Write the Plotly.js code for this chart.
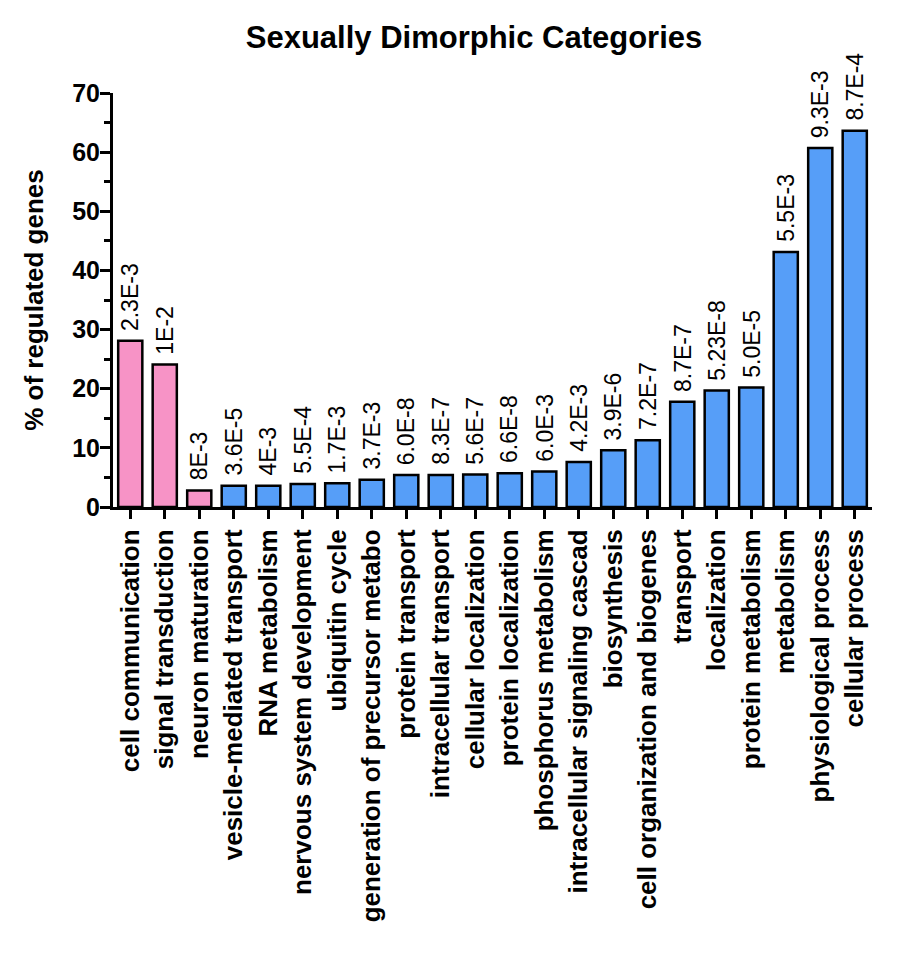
<!DOCTYPE html>
<html>
<head>
<meta charset="utf-8">
<script src="https://cdn.plot.ly/plotly-3.0.1.min.js"></script>
<style>
  html, body { margin: 0; padding: 0; background: #ffffff; }
  #chart { width: 900px; height: 956px; }
</style>
</head>
<body>
<div id="chart"></div>
<script>
const categories = [
  "cell communication",
  "signal transduction",
  "neuron maturation",
  "vesicle-mediated transport",
  "RNA metabolism",
  "nervous system development",
  "ubiquitin cycle",
  "generation of precursor metabo",
  "protein transport",
  "intracellular transport",
  "cellular localization",
  "protein localization",
  "phosphorus metabolism",
  "intracellular signaling cascad",
  "biosynthesis",
  "cell organization and biogenes",
  "transport",
  "localization",
  "protein metabolism",
  "metabolism",
  "physiological process",
  "cellular process"
];
const percentRegulated = [
  28.1, 24.1, 2.8, 3.6, 3.6, 3.9, 4.0, 4.6, 5.4, 5.4, 5.5,
  5.7, 6.0, 7.6, 9.6, 11.3, 17.8, 19.7, 20.2, 43.1, 60.7, 63.6
];
const pValues = [
  "2.3E-3", "1E-2", "8E-3", "3.6E-5", "4E-3", "5.5E-4", "1.7E-3", "3.7E-3",
  "6.0E-8", "8.3E-7", "5.6E-7", "6.6E-8", "6.0E-3", "4.2E-3", "3.9E-6",
  "7.2E-7", "8.7E-7", "5.23E-8", "5.0E-5", "5.5E-3", "9.3E-3", "8.7E-4"
];
const groups = [
  "pink", "pink", "pink", "blue", "blue", "blue", "blue", "blue", "blue", "blue", "blue",
  "blue", "blue", "blue", "blue", "blue", "blue", "blue", "blue", "blue", "blue", "blue"
];
const groupColors = { pink: "#F793C6", blue: "#569EF8" };

const boldFont = "Liberation Sans, Arial, Helvetica, sans-serif";
const labelFont = "Liberation Sans Narrow, Arial Narrow, Liberation Sans, Arial, sans-serif";

const trace = {
  type: "bar",
  x: categories,
  y: percentRegulated,
  marker: {
    color: groups.map(g => groupColors[g]),
    line: { color: "#000000", width: 2.5 }
  },
  hoverinfo: "x+y"
};

const annotations = categories.map((c, i) => ({
  x: c,
  y: percentRegulated[i],
  xref: "x",
  yref: "y",
  text: pValues[i],
  showarrow: false,
  textangle: -90,
  xanchor: "center",
  yanchor: "bottom",
  yshift: 8,
  font: { family: labelFont, size: 23, color: "#000000" }
}));

const layout = {
  width: 900,
  height: 956,
  margin: { l: 113, r: 28, t: 93, b: 449 },
  paper_bgcolor: "#ffffff",
  plot_bgcolor: "#ffffff",
  showlegend: false,
  bargap: 0.3,
  title: {
    text: "<b>Sexually Dimorphic Categories</b>",
    font: { family: boldFont, size: 31, color: "#000000" },
    x: 474 / 900,
    xref: "container",
    xanchor: "center",
    y: 1 - 37 / 956,
    yref: "container",
    yanchor: "middle"
  },
  xaxis: {
    type: "category",
    range: [-0.5, categories.length - 0.5],
    showline: true,
    linecolor: "#000000",
    linewidth: 3,
    ticks: "outside",
    ticklen: 9,
    tickwidth: 3,
    tickcolor: "#000000",
    tickangle: -90,
    tickfont: { family: boldFont, size: 26, color: "#000000", weight: "bold" },
    showgrid: false,
    zeroline: false,
    automargin: false,
    fixedrange: true
  },
  yaxis: {
    range: [0, 70],
    tickvals: [0, 10, 20, 30, 40, 50, 60, 70],
    ticktext: ["0", "10", "20", "30", "40", "50", "60", "70"],
    showline: true,
    linecolor: "#000000",
    linewidth: 3,
    ticks: "outside",
    ticklen: 10,
    tickwidth: 3,
    tickcolor: "#000000",
    ticklabelstandoff: -5,
    tickfont: { family: boldFont, size: 25, color: "#000000", weight: "bold" },
    minor: { tickvals: [5, 15, 25, 35, 45, 55, 65], ticks: "outside", ticklen: 6, tickwidth: 3, tickcolor: "#000000", showgrid: false },
    showgrid: false,
    zeroline: false,
    title: {
      text: "<b>% of regulated genes</b>",
      font: { family: boldFont, size: 26, color: "#000000" },
      standoff: 22
    },
    automargin: true,
    fixedrange: true
  },
  annotations: annotations
};

Plotly.newPlot("chart", [trace], layout, { displayModeBar: false, staticPlot: true });
</script>
</body>
</html>
